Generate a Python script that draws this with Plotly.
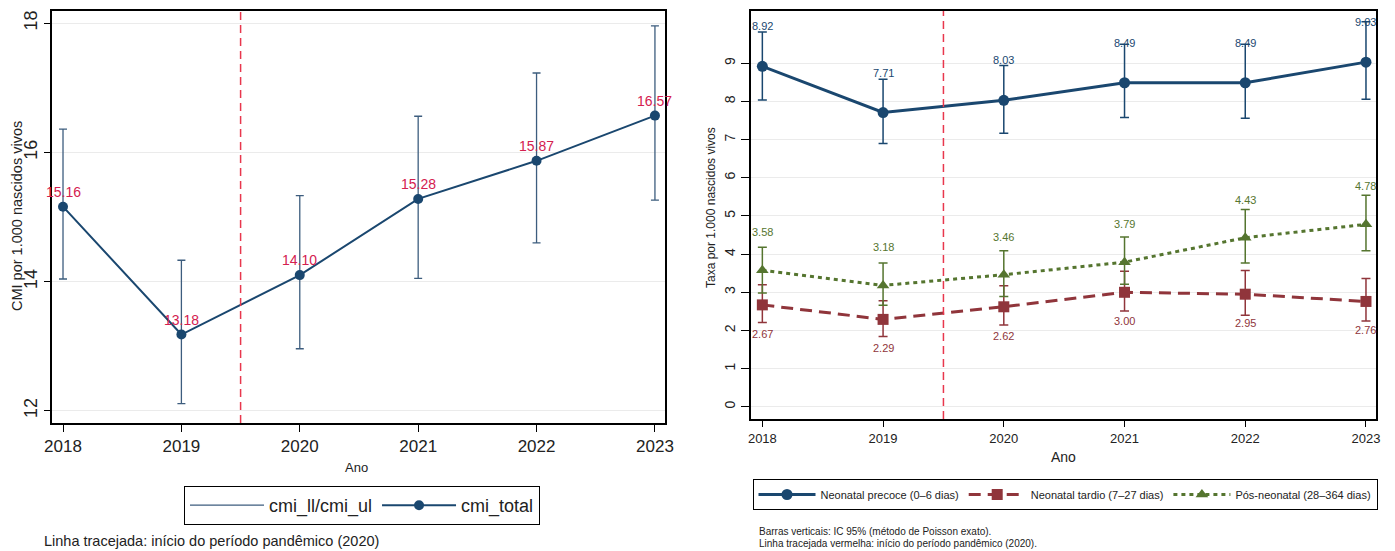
import plotly.graph_objects as go

# ---------------- data ----------------
years = [2018, 2019, 2020, 2021, 2022, 2023]

cmi_total = [15.16, 13.18, 14.10, 15.28, 15.87, 16.57]
cmi_ll = [14.04, 12.11, 12.96, 14.05, 14.60, 15.26]
cmi_ul = [16.36, 14.33, 15.33, 16.56, 17.23, 17.96]

precoce = [8.92, 7.71, 8.03, 8.49, 8.49, 9.03]
precoce_ll = [8.04, 6.90, 7.17, 7.58, 7.56, 8.06]
precoce_ul = [9.82, 8.58, 8.94, 9.50, 9.50, 10.09]

tardio = [2.67, 2.29, 2.62, 3.00, 2.95, 2.76]
tardio_ll = [2.21, 1.84, 2.14, 2.51, 2.40, 2.25]
tardio_ul = [3.20, 2.78, 3.17, 3.55, 3.57, 3.36]

pos = [3.58, 3.18, 3.46, 3.79, 4.43, 4.78]
pos_ll = [2.98, 2.66, 2.89, 3.21, 3.77, 4.09]
pos_ul = [4.18, 3.77, 4.09, 4.45, 5.17, 5.54]

left_yticks = [12, 14, 16, 18]
right_yticks = [0, 1, 2, 3, 4, 5, 6, 7, 8, 9]
pandemic_x = 2019.5

# ---------------- style ----------------
NAVY = "#1a476f"
NAVY_EB = "#3d5d7e"
MAROON = "#90353b"
GREEN = "#55752f"
RED = "#e8374d"
CRIMSON = "#d4204f"
FONT = "Liberation Sans, Arial, sans-serif"
W, H = 1395, 551


def plus(v, hi):
    return [h - x for x, h in zip(v, hi)]


def minus(v, lo):
    return [x - l for x, l in zip(v, lo)]


fig = go.Figure()

# ---- left chart ----
fig.add_trace(go.Scatter(
    x=[None], y=[None], mode="lines", name="cmi_ll/cmi_ul",
    line=dict(color=NAVY_EB, width=1.3), xaxis="x", yaxis="y", legend="legend"))
fig.add_trace(go.Scatter(
    x=years, y=cmi_total, mode="markers", showlegend=False,
    marker=dict(size=1, opacity=0),
    error_y=dict(type="data", array=plus(cmi_total, cmi_ul), arrayminus=minus(cmi_total, cmi_ll),
                 color=NAVY_EB, thickness=1.3, width=4),
    xaxis="x", yaxis="y", hoverinfo="skip"))
fig.add_trace(go.Scatter(
    x=years, y=cmi_total, mode="lines+markers", name="cmi_total",
    line=dict(color=NAVY, width=2), marker=dict(color=NAVY, size=10),
    xaxis="x", yaxis="y", legend="legend"))

# ---- right chart ----
fig.add_trace(go.Scatter(
    x=years, y=precoce, mode="lines+markers", name="Neonatal precoce (0\u20136 dias)",
    line=dict(color=NAVY, width=3), marker=dict(color=NAVY, size=11, symbol="circle"),
    error_y=dict(type="data", array=plus(precoce, precoce_ul), arrayminus=minus(precoce, precoce_ll),
                 color=NAVY, thickness=1.5, width=4.5),
    xaxis="x2", yaxis="y2", legend="legend2"))
fig.add_trace(go.Scatter(
    x=years, y=tardio, mode="lines+markers", name="Neonatal tardio (7\u201327 dias)",
    line=dict(color=MAROON, width=3, dash="12px,7px"), marker=dict(color=MAROON, size=11, symbol="square"),
    error_y=dict(type="data", array=plus(tardio, tardio_ul), arrayminus=minus(tardio, tardio_ll),
                 color=MAROON, thickness=1.5, width=4.5),
    xaxis="x2", yaxis="y2", legend="legend2"))
fig.add_trace(go.Scatter(
    x=years, y=pos, mode="lines+markers", name="P\u00f3s-neonatal (28\u2013364 dias)",
    line=dict(color=GREEN, width=3, dash="4px,4px"), marker=dict(color=GREEN, size=11, symbol="triangle-up"),
    error_y=dict(type="data", array=plus(pos, pos_ul), arrayminus=minus(pos, pos_ll),
                 color=GREEN, thickness=1.5, width=4.5),
    xaxis="x2", yaxis="y2", legend="legend2"))

annotations = []
for yr, v in zip(years, cmi_total):
    annotations.append(dict(x=yr, y=v, xref="x", yref="y", text=f"{v:.2f}", showarrow=False,
                            yshift=15, font=dict(color=CRIMSON, size=14, family=FONT)))
for yr, v in zip(years, precoce):
    annotations.append(dict(x=yr, y=v, xref="x2", yref="y2", text=f"{v:.2f}", showarrow=False,
                            yshift=40, font=dict(color=NAVY, size=11, family=FONT)))
for yr, v in zip(years, pos):
    annotations.append(dict(x=yr, y=v, xref="x2", yref="y2", text=f"{v:.2f}", showarrow=False,
                            yshift=38, font=dict(color=GREEN, size=11, family=FONT)))
for yr, v in zip(years, tardio):
    annotations.append(dict(x=yr, y=v, xref="x2", yref="y2", text=f"{v:.2f}", showarrow=False,
                            yshift=-29, font=dict(color=MAROON, size=11, family=FONT)))

# titles & notes
annotations += [
    dict(x=17 / W, y=1 - 216 / H, xref="paper", yref="paper", text="CMI por 1.000 nascidos vivos",
         textangle=-90, xanchor="center", yanchor="middle", showarrow=False,
         font=dict(size=14.5, color="#222", family=FONT)),
    dict(x=711 / W, y=1 - 208 / H, xref="paper", yref="paper", text="Taxa por 1.000 nascidos vivos",
         textangle=-90, xanchor="center", yanchor="middle", showarrow=False,
         font=dict(size=12, color="#222", family=FONT)),
    dict(x=356 / W, y=1 - 467 / H, xref="paper", yref="paper", text="Ano", xanchor="center", yanchor="middle",
         showarrow=False, font=dict(size=13, color="#222", family=FONT)),
    dict(x=1063 / W, y=1 - 457 / H, xref="paper", yref="paper", text="Ano", xanchor="center", yanchor="middle",
         showarrow=False, font=dict(size=14, color="#222", family=FONT)),
    dict(x=42 / W, y=1 - 541 / H, xref="paper", yref="paper", xanchor="left", yanchor="middle",
         text="Linha tracejada: in\u00edcio do per\u00edodo pand\u00eamico (2020)",
         showarrow=False, font=dict(size=14.5, color="#222", family=FONT)),
    dict(x=757 / W, y=1 - 531 / H, xref="paper", yref="paper", xanchor="left", yanchor="middle",
         text="Barras verticais: IC 95% (m\u00e9todo de Poisson exato).",
         showarrow=False, font=dict(size=10, color="#222", family=FONT)),
    dict(x=757 / W, y=1 - 543 / H, xref="paper", yref="paper", xanchor="left", yanchor="middle",
         text="Linha tracejada vermelha: in\u00edcio do per\u00edodo pand\u00eamico (2020).",
         showarrow=False, font=dict(size=10, color="#222", family=FONT)),
]

shapes = [
    dict(type="line", xref="x", yref="y domain", x0=pandemic_x, x1=pandemic_x, y0=0, y1=1,
         line=dict(color=RED, width=1.5, dash="8px,5px")),
    dict(type="line", xref="x2", yref="y2 domain", x0=pandemic_x, x1=pandemic_x, y0=0, y1=1,
         line=dict(color=RED, width=1.5, dash="8px,5px")),
]

axis_common = dict(showline=True, linecolor="black", linewidth=2, mirror=True,
                   ticks="outside", tickcolor="black", zeroline=False, automargin=False)

fig.update_layout(
    width=W, height=H,
    margin=dict(l=0, r=0, t=0, b=0, autoexpand=False),
    paper_bgcolor="white", plot_bgcolor="white",
    font=dict(family=FONT, color="#222"),
    xaxis=dict(domain=[52 / W, 665 / W], range=[2017.907, 2023.085], tickvals=years,
               ticklen=7, tickfont=dict(size=17), showgrid=False, anchor="y", **axis_common),
    yaxis=dict(domain=[1 - 423 / H, 1 - 11 / H], range=[11.81, 18.19], tickvals=left_yticks,
               ticklen=6, tickangle=-90, tickfont=dict(size=18), showgrid=True, gridcolor="#ebebeb",
               gridwidth=1.2, anchor="x", **axis_common),
    xaxis2=dict(domain=[751 / W, 1376 / W], range=[2017.906, 2023.083], tickvals=years,
                ticklen=6, tickfont=dict(size=13), showgrid=False, anchor="y2", **axis_common),
    yaxis2=dict(domain=[1 - 419 / H, 1 - 11 / H], range=[-0.32, 10.37], tickvals=right_yticks,
                ticklen=8, tickangle=-90, tickfont=dict(size=14), showgrid=True, gridcolor="#ebebeb",
                gridwidth=1.2, anchor="x2", **axis_common),
    legend=dict(orientation="h", x=362 / W, y=1 - 486 / H, xanchor="center", yanchor="top",
                bordercolor="black", borderwidth=1, bgcolor="white", itemwidth=74,
                font=dict(size=18, family=FONT, color="#222")),
    legend2=dict(orientation="h", x=1065 / W, y=1 - 479 / H, xanchor="center", yanchor="top",
                 bordercolor="black", borderwidth=1, bgcolor="white", itemwidth=57,
                 font=dict(size=11, family=FONT, color="#222")),
    annotations=annotations,
    shapes=shapes,
    showlegend=True,
)

fig.write_html("out.html", config={"displayModeBar": False},
               post_script="document.body.style.margin='0';document.body.style.overflow='hidden';")
